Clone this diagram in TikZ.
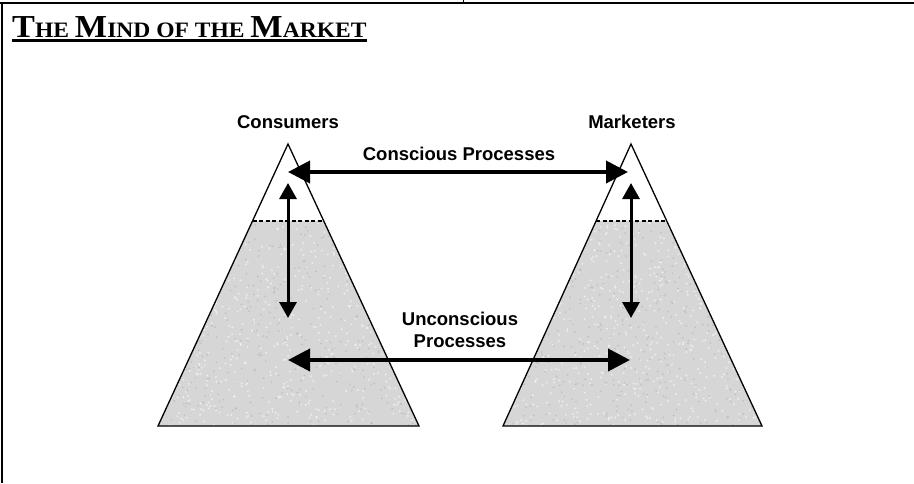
\documentclass[tikz,border=0pt]{standalone}
\usepackage{fontspec}
\setmainfont{Liberation Serif}
\newfontfamily\labelfont{Liberation Sans}
\usetikzlibrary{arrows.meta,calc}
\newcommand{\BigC}[1]{{\fontsize{32}{32}\selectfont #1}}
\newcommand{\SmC}[1]{{\fontsize{22}{22}\selectfont #1}}
\begin{document}
\begin{tikzpicture}[x=1pt,y=-1pt,
  lbl/.style={font=\labelfont\bfseries\fontsize{18.5}{22}\selectfont, inner sep=0pt, align=center},
  tri/.style={line width=1.3pt, line join=miter},
  shade/.style={fill=black!16},
  speck/.style={fill=white, opacity=0.55},
  dspeck/.style={fill=black!35, opacity=0.5},
  bigarrow/.style={line width=3.8pt, {Triangle[length=22pt,width=22pt]}-{Triangle[length=22pt,width=22pt]}},
  vertarrow/.style={line width=3pt, {Triangle[length=16pt,width=17pt]}-{Triangle[length=16pt,width=17pt]}},
  sep/.style={line width=1.3pt, dash pattern=on 4pt off 2.5pt},
  frame/.style={line width=1.6pt}]
\useasboundingbox (0,0) rectangle (914,483);
% frame
\draw[frame] (0,3) -- (914,3);
\draw[frame] (2,3) -- (2,483);
\draw[line width=1pt] (463,0) -- (463,3);
% title
\node[anchor=base west, inner sep=0pt, font=\bfseries\fontsize{22}{22}\selectfont] (title) at (12,37)
  {\scalebox{1.07}[1]{\BigC{T}\SmC{HE} \BigC{M}\SmC{IND} \SmC{OF THE} \BigC{M}\SmC{ARKET}}};
\draw[line width=2.3pt] ([yshift=-3.5pt]title.base west) -- ([yshift=-3.5pt]title.base east);
% triangle coordinates
\coordinate (LA) at (288,144);
\coordinate (LBL) at (158,426);
\coordinate (LBR) at (419,426);
\coordinate (RA) at (631,144);
\coordinate (RBL) at (503,426);
\coordinate (RBR) at (762,426);
% shaded lower parts with speckle texture
\pgfmathsetseed{4242}
\begin{scope}
  \clip ($(LA)!0.2730!(LBL)$) -- (LBL) -- (LBR) -- ($(LA)!0.2730!(LBR)$) -- cycle;
  \fill[shade] (150,215) rectangle (430,430);
  \foreach \i in {1,...,700} {
    \pgfmathsetmacro{\px}{150+280*rnd}
    \pgfmathsetmacro{\py}{215+215*rnd}
    \fill[speck] (\px,\py) circle (1.1pt);
  }
  \foreach \i in {1,...,500} {
    \pgfmathsetmacro{\px}{150+280*rnd}
    \pgfmathsetmacro{\py}{215+215*rnd}
    \fill[dspeck] (\px,\py) circle (0.9pt);
  }
\end{scope}
\begin{scope}
  \clip ($(RA)!0.2730!(RBL)$) -- (RBL) -- (RBR) -- ($(RA)!0.2730!(RBR)$) -- cycle;
  \fill[shade] (495,215) rectangle (770,430);
  \foreach \i in {1,...,700} {
    \pgfmathsetmacro{\px}{495+275*rnd}
    \pgfmathsetmacro{\py}{215+215*rnd}
    \fill[speck] (\px,\py) circle (1.1pt);
  }
  \foreach \i in {1,...,500} {
    \pgfmathsetmacro{\px}{495+275*rnd}
    \pgfmathsetmacro{\py}{215+215*rnd}
    \fill[dspeck] (\px,\py) circle (0.9pt);
  }
\end{scope}
% outlines
\draw[tri] (LA) -- (LBL) -- (LBR) -- cycle;
\draw[tri] (RA) -- (RBL) -- (RBR) -- cycle;
% dashed separators
\draw[sep] ($(LA)!0.2730!(LBL)$) -- ($(LA)!0.2730!(LBR)$);
\draw[sep] ($(RA)!0.2730!(RBL)$) -- ($(RA)!0.2730!(RBR)$);
% labels
\node[lbl] (cons) at (288,122) {Consumers};
\node[lbl] (mark) at (632,122) {Marketers};
\node[lbl] (cp) at (459,154) {Conscious Processes};
\node[lbl] (up) at (460,330) {Unconscious\\Processes};
% arrow endpoints
\coordinate (cL) at (288,172);
\coordinate (cR) at (628,172);
\coordinate (uL) at (288,360);
\coordinate (uR) at (630,360);
\coordinate (vLt) at (288,183);
\coordinate (vLb) at (288,318);
\coordinate (vRt) at (631,183);
\coordinate (vRb) at (631,318);
\draw[bigarrow] (cL) -- (cR);
\draw[bigarrow] (uL) -- (uR);
\draw[vertarrow] (vLt) -- (vLb);
\draw[vertarrow] (vRt) -- (vRb);
\end{tikzpicture}
\end{document}
